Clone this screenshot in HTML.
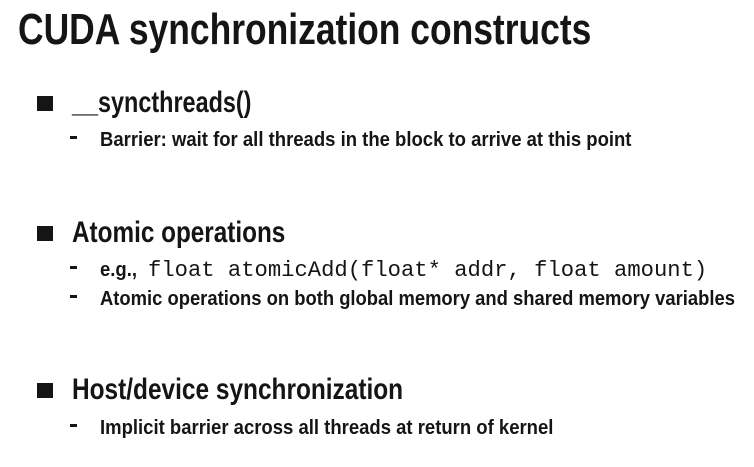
<!DOCTYPE html>
<html><head><style>
body{margin:0;width:754px;height:467px;background:#fff;overflow:hidden;position:relative;color:#151515;font-family:"Liberation Sans",sans-serif;font-weight:bold}
.t{position:absolute;white-space:nowrap;line-height:1;transform-origin:0 0}
.sq{position:absolute;width:16px;height:15px;background:#151515}
.d{position:absolute;width:7px;height:3px;background:#151515}
.m{font-family:"Liberation Mono",monospace;font-weight:normal}
</style></head><body>
<div class="t" style="left:18px;top:8px;font-size:44px;transform:scaleX(0.805)">CUDA synchronization constructs</div>

<div class="sq" style="left:37px;top:96px"></div>
<div class="t" style="left:72px;top:88px;font-size:30px;transform:scaleX(0.78)">__syncthreads()</div>
<div class="d" style="left:70px;top:136px"></div>
<div class="t" style="left:100px;top:130px;font-size:20px;transform:scaleX(0.925)">Barrier: wait for all threads in the block to arrive at this point</div>

<div class="sq" style="left:37px;top:226px"></div>
<div class="t" style="left:72px;top:218px;font-size:30px;transform:scaleX(0.81)">Atomic operations</div>
<div class="d" style="left:70px;top:266px"></div>
<div class="t" style="left:100px;top:260px;font-size:20px;transform:scaleX(0.925)">e.g.,</div>
<div class="t m" style="left:148px;top:260px;font-size:22.2px">float atomicAdd(float* addr, float amount)</div>
<div class="d" style="left:70px;top:295px"></div>
<div class="t" style="left:100px;top:289px;font-size:20px;transform:scaleX(0.92)">Atomic operations on both global memory and shared memory variables</div>

<div class="sq" style="left:37px;top:383px"></div>
<div class="t" style="left:72px;top:375px;font-size:30px;transform:scaleX(0.814)">Host/device synchronization</div>
<div class="d" style="left:70px;top:424px"></div>
<div class="t" style="left:100px;top:418px;font-size:20px;transform:scaleX(0.925)">Implicit barrier across all threads at return of kernel</div>
</body></html>
